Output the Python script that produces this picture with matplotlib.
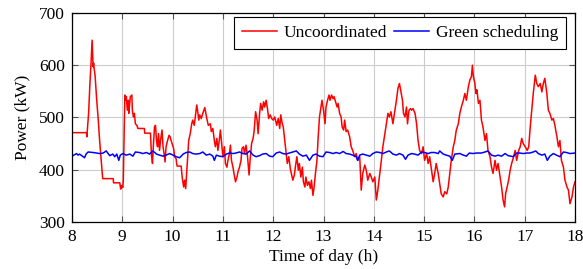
import numpy as np
import matplotlib
matplotlib.use("Agg")
import matplotlib.pyplot as plt

# uncoordinated charging, (hour, kW)
red_t = [
    8.00, 8.29, 8.295, 8.33, 8.36, 8.38, 8.40, 8.41, 8.42, 8.43, 8.44, 8.46, 8.49,
    8.52, 8.55, 8.58, 8.61, 8.82, 8.825, 8.95, 8.96, 8.97, 8.99, 9.01, 9.02,
    9.05, 9.07, 9.08, 9.10, 9.12, 9.13, 9.14, 9.16, 9.19, 9.20, 9.22, 9.24, 9.26,
    9.29, 9.31, 9.44, 9.445, 9.56, 9.58, 9.60, 9.62, 9.64, 9.66, 9.68, 9.70, 9.72,
    9.74, 9.76, 9.79, 9.81, 9.83, 9.85, 9.87, 9.90, 9.93, 9.95, 9.97, 10.02, 10.04,
    10.07, 10.08, 10.09, 10.17, 10.19, 10.22, 10.24, 10.26, 10.28, 10.30, 10.32,
    10.35, 10.38, 10.40, 10.43, 10.46, 10.48, 10.50, 10.52, 10.54, 10.57, 10.60,
    10.64, 10.66, 10.68, 10.71, 10.75, 10.77, 10.80, 10.83, 10.85, 10.88, 10.90,
    10.92, 10.95, 10.97, 11.00, 11.03, 11.05, 11.08, 11.10, 11.13, 11.15, 11.17,
    11.20, 11.22, 11.25, 11.28, 11.30, 11.33, 11.36, 11.38, 11.41, 11.43, 11.46,
    11.49, 11.52, 11.54, 11.57, 11.60, 11.62, 11.65, 11.68, 11.70, 11.73, 11.75,
    11.78, 11.81, 11.83, 11.86, 11.89, 11.91, 11.94, 11.97, 12.00, 12.03, 12.07,
    12.10, 12.13, 12.15, 12.18, 12.20, 12.23, 12.26, 12.28, 12.31, 12.34, 12.36,
    12.39, 12.42, 12.44, 12.47, 12.50, 12.52, 12.55, 12.58, 12.60, 12.63, 12.65,
    12.68, 12.71, 12.74, 12.76, 12.79, 12.81, 12.84, 12.87, 12.89, 12.92, 12.95,
    12.97, 13.00, 13.03, 13.05, 13.08, 13.11, 13.13, 13.16, 13.19, 13.21, 13.24,
    13.27, 13.29, 13.32, 13.35, 13.37, 13.40, 13.42, 13.45, 13.48, 13.52, 13.55,
    13.58, 13.62, 13.65, 13.68, 13.72, 13.75, 13.78, 13.82, 13.85, 13.88, 13.92,
    13.95, 13.98, 14.02, 14.05, 14.08, 14.12, 14.15, 14.18, 14.22, 14.25, 14.28,
    14.31, 14.34, 14.38, 14.41, 14.45, 14.48, 14.51, 14.54, 14.57, 14.59, 14.62,
    14.65, 14.67, 14.70, 14.73, 14.75, 14.78, 14.82, 14.85, 14.88, 14.91, 14.95,
    14.98, 15.01, 15.05, 15.08, 15.11, 15.14, 15.18, 15.21, 15.24, 15.28, 15.31,
    15.34, 15.38, 15.41, 15.45, 15.48, 15.51, 15.54, 15.58, 15.61, 15.64, 15.68,
    15.71, 15.74, 15.78, 15.81, 15.84, 15.88, 15.91, 15.94, 15.96, 15.98, 16.01,
    16.03, 16.05, 16.08, 16.11, 16.14, 16.17, 16.21, 16.24, 16.27, 16.31, 16.34,
    16.37, 16.41, 16.44, 16.47, 16.51, 16.54, 16.57, 16.60, 16.62, 16.65, 16.68,
    16.71, 16.74, 16.78, 16.81, 16.84, 16.88, 16.91, 16.94, 16.97, 17.01, 17.05,
    17.08, 17.11, 17.14, 17.17, 17.21, 17.24, 17.27, 17.31, 17.34, 17.37, 17.40,
    17.44, 17.47, 17.50, 17.54, 17.57, 17.60, 17.64, 17.67, 17.70, 17.73, 17.77,
    17.80, 17.84, 17.87, 17.90, 17.94, 17.97, 18.00,
]
red_kw = [
    471, 471, 463, 508, 572, 607, 648, 625, 597, 604, 594, 579, 535,
    498, 455, 420, 383, 383, 375, 375, 368, 363, 370, 366, 380,
    543, 533, 540, 514, 533, 508, 520, 540, 543, 514, 501, 508, 488,
    485, 479, 479, 470, 470, 428, 412, 450, 482, 485, 456, 444, 469,
    437, 456, 476, 444, 431, 415, 444, 456, 466, 463, 456, 441, 425,
    421, 412, 407, 407, 386, 367, 380, 364, 393, 425, 456,
    469, 488, 495, 485, 508, 524, 511, 495, 505, 498, 508,
    519, 508, 498, 485, 488, 473, 479, 456, 444, 460, 437,
    450, 476, 456, 425, 444, 412, 405, 418, 431, 447, 418,
    405, 393, 377, 386, 396, 405, 418, 441, 444, 431, 447,
    425, 390, 418, 450, 460, 473, 511, 495, 469, 508, 527,
    514, 530, 520, 533, 514, 498, 505, 498, 495, 501, 485,
    498, 479, 505, 488, 482, 456, 431, 412, 425, 402, 393,
    380, 390, 405, 425, 399, 412, 386, 405, 377, 367, 386,
    370, 377, 364, 380, 351, 364, 393, 418, 456, 501, 520,
    533, 514, 488, 520, 533, 543, 533, 543, 536, 540, 530,
    520, 527, 508, 501, 482, 476, 495, 473, 476, 463, 444,
    437, 425, 431, 418, 425, 361, 393, 409, 399, 380, 393,
    386, 377, 386, 342, 361, 393, 418, 444, 469, 488, 508,
    501, 511, 488, 508, 533, 556, 565, 549, 533, 508, 501,
    520, 488, 514, 517, 514, 517, 508, 488, 456, 437, 431,
    444, 418, 431, 412, 425, 405, 377, 393, 412, 393, 373,
    354, 348, 358, 354, 367, 393, 418, 444, 456, 476, 488,
    508, 520, 533, 546, 533, 559, 572, 578, 600, 578, 565,
    546, 553, 527, 533, 495, 482, 456, 469, 437, 425, 405,
    393, 418, 399, 412, 386, 367, 342, 329, 354, 367, 380,
    399, 412, 425, 437, 418, 437, 444, 460, 450, 444, 437,
    444, 482, 514, 546, 581, 565, 559, 565, 549, 565, 575,
    546, 514, 508, 495, 498, 485, 463, 444, 456, 418, 405,
    380, 367, 361, 335, 348, 367, 377,
]

# green scheduling
blue_t = [
    8.00, 8.09, 8.12, 8.15, 8.22, 8.25, 8.28, 8.32, 8.42, 8.48, 8.55, 8.62, 8.68,
    8.72, 8.75, 8.81, 8.85, 8.89, 8.93, 8.96, 9.01, 9.08, 9.15, 9.21, 9.26, 9.34,
    9.41, 9.48, 9.54, 9.61, 9.68, 9.74, 9.81, 9.87, 9.94, 10.01, 10.07, 10.14,
    10.21, 10.27, 10.34, 10.40, 10.47, 10.54, 10.60, 10.67, 10.74, 10.80, 10.83,
    10.87, 10.93, 11.00, 11.07, 11.13, 11.20, 11.26, 11.33, 11.40, 11.46, 11.53,
    11.60, 11.66, 11.73, 11.79, 11.86, 11.93, 11.99, 12.06, 12.13, 12.19, 12.26,
    12.32, 12.39, 12.46, 12.52, 12.59, 12.66, 12.72, 12.79, 12.85, 12.92, 12.99,
    13.05, 13.12, 13.19, 13.25, 13.32, 13.39, 13.45, 13.52, 13.58, 13.65, 13.68,
    13.72, 13.78, 13.85, 13.92, 13.98, 14.05, 14.12, 14.18, 14.25, 14.31, 14.38,
    14.45, 14.51, 14.58, 14.63, 14.68, 14.75, 14.81, 14.88, 14.95, 15.01, 15.08,
    15.14, 15.21, 15.28, 15.31, 15.38, 15.44, 15.51, 15.56, 15.61, 15.71, 15.78,
    15.84, 15.90, 15.97, 16.04, 16.14, 16.21, 16.27, 16.34, 16.41, 16.47, 16.54,
    16.61, 16.67, 16.77, 16.84, 16.90, 16.97, 17.04, 17.10, 17.17, 17.22, 17.27,
    17.34, 17.40, 17.45, 17.50, 17.57, 17.63, 17.70, 17.77, 17.83, 17.90, 18.00,
]
blue_kw = [
    426, 431, 428, 430, 425, 423, 430, 434, 433, 432, 431, 432, 436,
    431, 427, 430, 425, 430, 418, 428, 431, 428, 430, 426, 434, 433,
    431, 433, 430, 436, 430, 428, 426, 428, 431, 428, 425, 423,
    430, 433, 434, 431, 430, 431, 434, 428, 430, 426, 418,
    428, 426, 425, 430, 432, 431, 432, 434, 431, 430, 436,
    428, 425, 427, 430, 431, 426, 425, 432, 434, 431, 430,
    432, 434, 436, 430, 426, 428, 418, 428, 430, 426, 425,
    434, 433, 431, 433, 431, 435, 431, 430, 428, 425, 418,
    428, 430, 428, 426, 431, 434, 433, 431, 434, 436, 430,
    428, 431, 428, 420, 428, 431, 430, 428, 434, 433, 431,
    433, 433, 431, 436, 430, 428, 426, 418, 430, 431, 428,
    426, 432, 431, 432, 432, 434, 436, 428, 426, 428, 426,
    431, 427, 425, 432, 432, 431, 432, 432, 434, 436, 431,
    428, 430, 418, 426, 431, 428, 425, 434, 433, 431, 432,
]

plt.rcParams["font.family"] = ["Liberation Serif", "DejaVu Serif"]

fig = plt.figure(figsize=(5.83, 2.69), dpi=100)
ax = fig.add_axes([0.1235, 0.1747, 0.8628, 0.777])

ax.plot(red_t, red_kw, color="red", lw=1.1, label="Uncoordinated")
ax.plot(blue_t, blue_kw, color="blue", lw=1.1, label="Green scheduling")

ax.set_xlim(8, 18)
ax.set_ylim(300, 700)
ax.set_xticks(range(8, 19))
ax.set_yticks(range(300, 701, 100))
ax.grid(True, color="#cccccc", lw=0.8)
ax.set_axisbelow(True)
ax.tick_params(direction="in", top=True, right=True, length=4,
               color="#555555", labelsize=12.5, pad=5)
for s in ax.spines.values():
    s.set_linewidth(0.9)

ax.set_xlabel("Time of day (h)", fontsize=12.5, labelpad=3)
ax.set_ylabel("Power (kW)", fontsize=12.5, labelpad=6)

leg = ax.legend(loc="upper right", bbox_to_anchor=(0.982, 0.979), ncol=2,
                fontsize=12.5, fancybox=False, edgecolor="black", framealpha=1,
                borderaxespad=0, handlelength=2.0, handletextpad=0.4,
                columnspacing=0.4, borderpad=0.45)
leg.get_frame().set_linewidth(0.8)

fig.savefig("out.png", dpi=100)
